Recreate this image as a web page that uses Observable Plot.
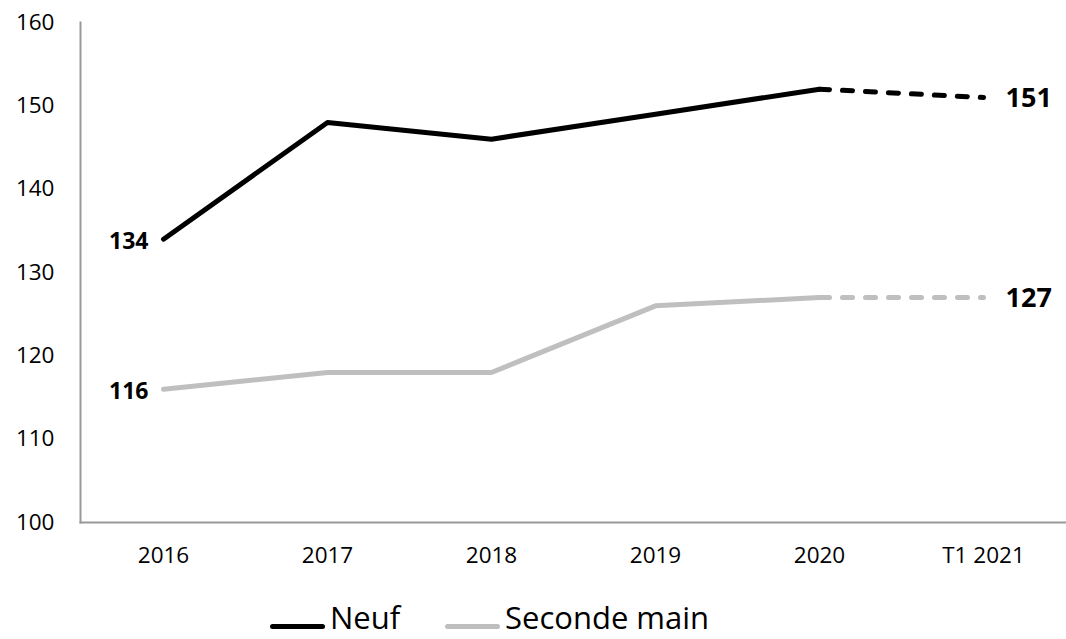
<!DOCTYPE html>
<html>
<head>
<meta charset="utf-8">
<script src="https://cdn.jsdelivr.net/npm/d3@7"></script>
<script src="https://cdn.jsdelivr.net/npm/@observablehq/plot@0.6"></script>
<style>
  html, body { margin: 0; padding: 0; background: #fff; }
  #wrap { position: relative; width: 1066px; height: 639px; overflow: hidden; font-family: "Open Sans", sans-serif; }
  .leg { position: absolute; top: 602px; font-size: 31px; color: #000; white-space: nowrap; line-height: 1; }
  .sw { position: absolute; height: 5px; border-radius: 3px; }
</style>
</head>
<body>
<div id="wrap"></div>
<script>
const periods = ["2016", "2017", "2018", "2019", "2020", "T1 2021"];
const neuf = [134, 148, 146, 149, 152, 151];
const seconde = [116, 118, 118, 126, 127, 127];
const yTicks = [100, 110, 120, 130, 140, 150, 160];
const seriesNames = ["Neuf", "Seconde main"];
const colors = ["#000000", "#bfbfbf"];

const rows = [];
periods.forEach((p, i) => {
  rows.push({period: p, value: neuf[i], serie: seriesNames[0], i});
  rows.push({period: p, value: seconde[i], serie: seriesNames[1], i});
});
const last = periods.length - 1;
const solid = rows.filter(d => d.i <= last - 1);
const dashed = rows.filter(d => d.i >= last - 1);
const firstLabels = rows.filter(d => d.i === 0);
const lastLabels = rows.filter(d => d.i === last);

const chart = Plot.plot({
  width: 1066,
  height: 590,
  marginLeft: 80,
  marginRight: 0,
  marginTop: 22,
  marginBottom: 68,
  style: {fontFamily: "Open Sans, sans-serif", fontSize: "22px", color: "#000", background: "#fff"},
  x: {type: "point", domain: periods, padding: 0.5, label: null},
  y: {domain: [100, 160], ticks: yTicks, label: null},
  color: {domain: seriesNames, range: colors},
  marks: [
    Plot.axisY({ticks: yTicks, tickSize: 0, tickPadding: 26, label: null, fontSize: 22.5}),
    Plot.axisX({tickSize: 0, tickPadding: 25, label: null, fontSize: 22.5}),
    Plot.frame({anchor: "left", stroke: "#999", strokeWidth: 2}),
    Plot.frame({anchor: "bottom", stroke: "#999", strokeWidth: 2}),
    Plot.line(solid, {x: "period", y: "value", z: "serie", stroke: "serie", strokeWidth: 5, strokeLinecap: "round", strokeLinejoin: "round"}),
    Plot.line(dashed, {x: "period", y: "value", z: "serie", stroke: "serie", strokeWidth: 5, strokeLinecap: "round", strokeDasharray: "10,13"}),
    Plot.text(firstLabels, {x: "period", y: "value", text: d => String(d.value), textAnchor: "end", dx: -15, dy: 2, fontWeight: "bold", fontSize: 23, fill: "#000"}),
    Plot.text(lastLabels, {x: "period", y: "value", text: d => String(d.value), textAnchor: "start", dx: 22, dy: 1, fontWeight: "bold", fontSize: 27, fill: "#000"})
  ]
});
const wrap = document.getElementById("wrap");
wrap.appendChild(chart);

// legend
const legendPos = [{sw: 270, tx: 330}, {sw: 445, tx: 505}];
seriesNames.forEach((name, k) => {
  const sw = document.createElement("div");
  sw.className = "sw";
  sw.style.left = legendPos[k].sw + "px";
  sw.style.width = "55px";
  sw.style.top = "624px";
  sw.style.background = colors[k];
  wrap.appendChild(sw);
  const t = document.createElement("div");
  t.className = "leg";
  t.style.left = legendPos[k].tx + "px";
  t.textContent = name;
  wrap.appendChild(t);
});
</script>
</body>
</html>
